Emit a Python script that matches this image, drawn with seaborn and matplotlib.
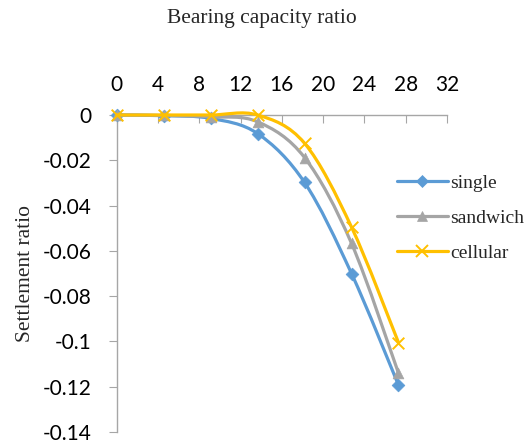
import numpy as np
import pandas as pd
import seaborn as sns
import matplotlib
matplotlib.use("Agg")
import matplotlib.pyplot as plt
from matplotlib.path import Path
from matplotlib.patches import PathPatch
from matplotlib.lines import Line2D

# Bearing capacity ratio vs settlement ratio for three reinforcement layouts
bcr = [0, 4.55, 9.1, 13.65, 18.2, 22.75, 27.3]
single = [0, -0.0003, -0.0015, -0.0082, -0.0298, -0.0700, -0.1193]
sandwich = [0, -0.0002, -0.0008, -0.0030, -0.0188, -0.0567, -0.1140]
cellular = [0, 0, 0, 0, -0.0125, -0.0495, -0.1005]
series_names = ["single", "sandwich", "cellular"]
x_ticks = [0, 4, 8, 12, 16, 20, 24, 28, 32]
y_ticks = [0, -0.02, -0.04, -0.06, -0.08, -0.1, -0.12, -0.14]
y_tick_labels = ["0", "-0.02", "-0.04", "-0.06", "-0.08", "-0.1", "-0.12", "-0.14"]

colors = ["#5B9BD5", "#A5A5A5", "#FFC000"]
markers = ["D", "^", "x"]
marker_sizes = [42, 60, 70]

sns.set_theme(style="white")
plt.rcParams["axes.unicode_minus"] = False
serif = ["Liberation Serif", "DejaVu Serif"]
sans = ["Lato", "DejaVu Sans"]

fig = plt.figure(figsize=(5.31, 4.43), dpi=100)
ax = fig.add_axes([0.2198, 0.0248, 0.6220, 0.7156])


def smooth_path(xs, ys):
    """Cubic Bezier path through the points (Catmull-Rom style smoothing)."""
    pts = np.column_stack([xs, ys]).astype(float)
    n = len(pts)
    verts = [pts[0]]
    codes = [Path.MOVETO]
    for i in range(n - 1):
        p0 = pts[i - 1] if i > 0 else pts[i]
        p1 = pts[i]
        p2 = pts[i + 1]
        p3 = pts[i + 2] if i + 2 < n else pts[i + 1]
        c1 = p1 + (p2 - p0) / 6.0
        c2 = p2 - (p3 - p1) / 6.0
        verts += [c1, c2, p2]
        codes += [Path.CURVE4] * 3
    return Path(verts, codes)


df = pd.DataFrame({"bcr": bcr, "single": single,
                   "sandwich": sandwich, "cellular": cellular})

handles = []
for k, name in enumerate(series_names):
    patch = PathPatch(smooth_path(df["bcr"], df[name]), facecolor="none",
                      edgecolor=colors[k], linewidth=2.3, clip_on=False,
                      zorder=3 + 2 * k, capstyle="round")
    ax.add_patch(patch)
    if markers[k] == "x":
        sns.scatterplot(data=df, x="bcr", y=name, marker="x", color=colors[k],
                        s=marker_sizes[k], linewidth=1.4, ax=ax,
                        zorder=4 + 2 * k, clip_on=False)
    else:
        sns.scatterplot(data=df, x="bcr", y=name, marker=markers[k],
                        color=colors[k], edgecolor=colors[k],
                        s=marker_sizes[k], linewidth=0.5, ax=ax,
                        zorder=4 + 2 * k, clip_on=False)
    handles.append(Line2D([], [], color=colors[k], linewidth=2.3,
                          marker=markers[k],
                          markersize=np.sqrt(marker_sizes[k]),
                          markeredgewidth=1.4 if markers[k] == "x" else 0.5,
                          markeredgecolor=colors[k], markerfacecolor=colors[k]))

ax.set_xlim(0, 32)
ax.set_ylim(-0.14, 0)
ax.set_xlabel("")
ax.set_ylabel("")

# x axis sits on y = 0 at the top of the plot
ax.xaxis.tick_top()
ax.set_xticks(x_ticks)
ax.set_xticklabels([str(t) for t in x_ticks], fontfamily=sans, fontsize=15,
                   color="#000000")
ax.set_yticks(y_ticks)
ax.set_yticklabels(y_tick_labels, fontfamily=sans, fontsize=15,
                   color="#000000")
ax.tick_params(axis="x", which="major", top=True, bottom=False,
               direction="in", length=6, width=0.8, color="#A6A6A6", pad=14.5)
ax.tick_params(axis="y", which="major", left=True, direction="out",
               length=6, width=0.8, color="#A6A6A6", pad=12)

for side in ["right", "bottom"]:
    ax.spines[side].set_visible(False)
for side in ["left", "top"]:
    ax.spines[side].set_color("#A6A6A6")
    ax.spines[side].set_linewidth(1.0)
ax.grid(False)

fig.text(262 / 531, 1 - 18 / 443, "Bearing capacity ratio",
         ha="center", va="center", fontfamily=serif, fontsize=15.5)
fig.text(26 / 531, 1 - 273 / 443, "Settlement ratio", rotation=90,
         ha="center", va="center", fontfamily=serif, fontsize=15.5)

fig.legend(handles, series_names, loc="upper left",
           bbox_to_anchor=(397 / 531, 1 - 174 / 443),
           frameon=False, borderpad=0, borderaxespad=0,
           handlelength=2.6, handletextpad=0.15, labelspacing=0.9,
           prop={"family": serif, "size": 14})

fig.savefig("out.png", dpi=100)
